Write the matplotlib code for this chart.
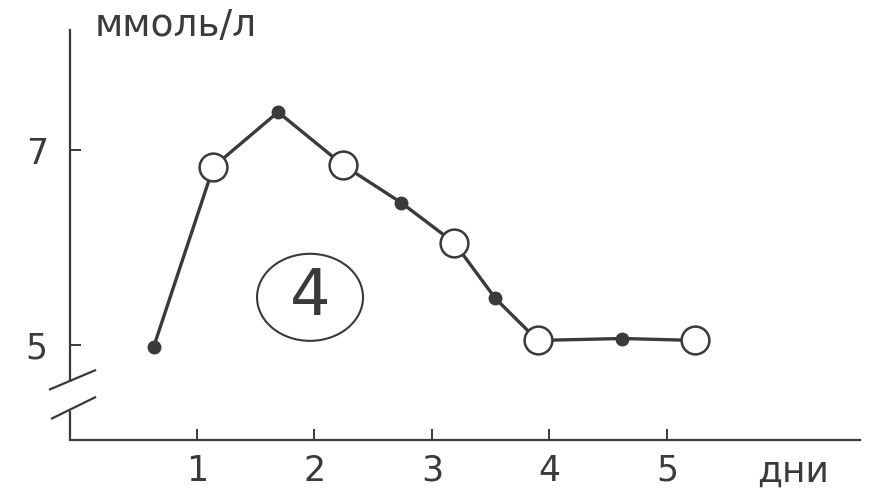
import matplotlib
matplotlib.use("Agg")
import matplotlib.pyplot as plt
from matplotlib.patches import Ellipse
import numpy as np

# values
days = [0.63, 1.14, 1.69, 2.24, 2.74, 3.19, 3.54, 3.90, 4.62, 5.24]
mmol = [4.98, 6.83, 7.39, 6.85, 6.46, 6.05, 5.48, 5.05, 5.07, 5.05]
hollow = [False, True, False, True, False, True, False, True, False, True]
x_ticks = [1, 2, 3, 4, 5]
y_ticks = [5, 7]

INK = "#3a3a3a"
FONT = "DejaVu Sans"

fig = plt.figure(figsize=(8.71, 4.93), dpi=100)
fig.patch.set_facecolor("white")
ax = fig.add_axes([70 / 871, 53 / 493, 790 / 871, 410 / 493])
ax.set_xlim(-0.081, 6.643)
ax.set_ylim(4.03, 8.231)

for s in ("top", "right", "left"):
  ax.spines[s].set_visible(False)
ax.spines["bottom"].set_color(INK)
ax.spines["bottom"].set_linewidth(1.6)

# y axis drawn by hand so it can have the break
x0 = -0.081
ax.plot([x0, x0], [4.64, 8.231], color=INK, lw=1.6, clip_on=False)
ax.plot([x0, x0], [4.03, 4.33], color=INK, lw=1.6, clip_on=False,
        solid_capstyle="butt")
ax.plot([-0.251, 0.132], [4.549, 4.744], color=INK, lw=1.6, clip_on=False)
ax.plot([-0.234, 0.132], [4.251, 4.467], color=INK, lw=1.6, clip_on=False)

ax.set_xticks(x_ticks)
ax.set_yticks(y_ticks)
ax.tick_params(direction="in", length=8, width=1.4, color=INK,
               labelsize=25, labelcolor=INK)
ax.tick_params(axis="y", pad=16)
ax.tick_params(axis="x", pad=10)
for lab in ax.get_xticklabels() + ax.get_yticklabels():
  lab.set_family(FONT)

x = np.array(days)
y = np.array(mmol)
h = np.array(hollow)
ax.plot(x, y, color=INK, lw=2.4, zorder=2)
ax.plot(x[~h], y[~h], "o", color=INK, ms=9, zorder=3)
ax.plot(x[h], y[h], "o", mfc="white", mec=INK, mew=1.8, ms=20, zorder=4)

ax.add_patch(Ellipse((1.962, 5.492), 0.902, 0.892, fill=False,
                     ec=INK, lw=1.5))
ax.text(1.962, 5.50, "4", ha="center", va="center", fontsize=46,
        color=INK, family=FONT)

fig.text(95 / 871, 1 - 26 / 493, "ммоль/л", ha="left", va="center",
         fontsize=27, color=INK, family=FONT)
fig.text(757 / 871, 1 - 472 / 493, "дни", ha="left", va="center",
         fontsize=26, color=INK, family=FONT)

fig.savefig("out.png", dpi=100, facecolor="white")
